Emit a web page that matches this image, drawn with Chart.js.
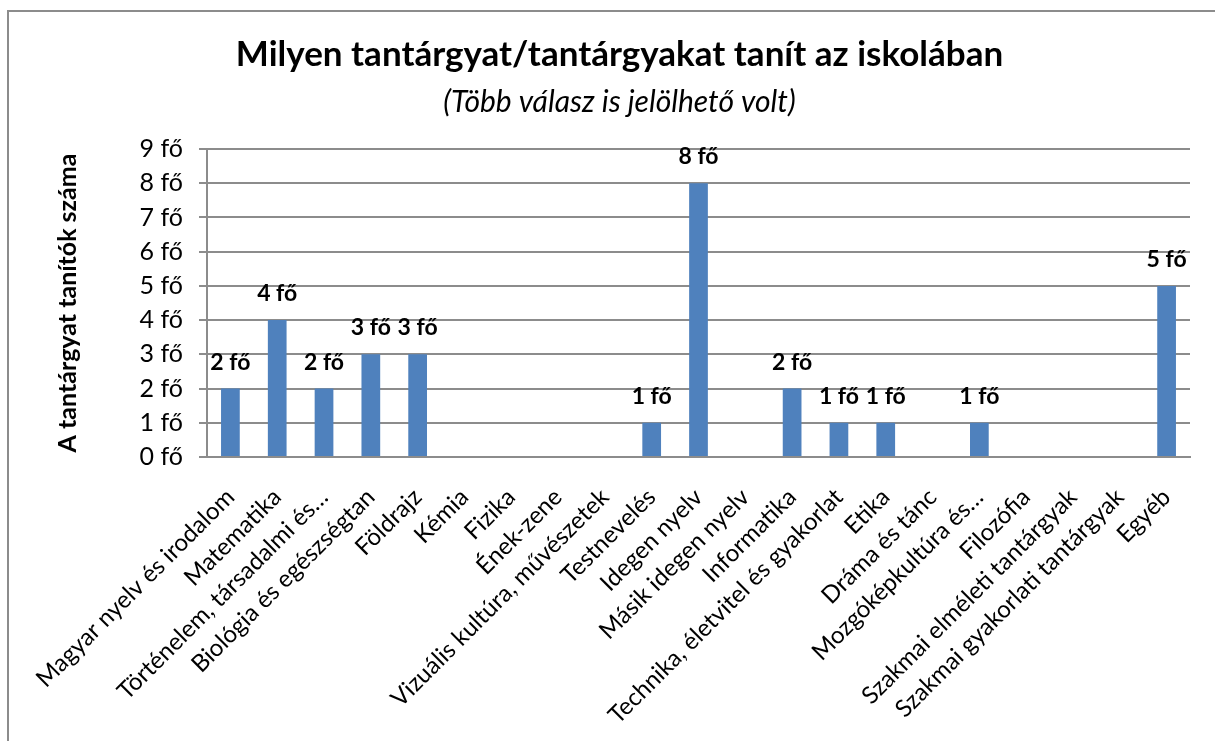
<!DOCTYPE html>
<html>
<head>
<meta charset="utf-8">
<script src="https://cdn.jsdelivr.net/npm/chart.js@4/dist/chart.umd.min.js"></script>
<style>
  html, body { margin: 0; padding: 0; background: #fff; }
  #wrap { position: relative; width: 1215px; height: 741px; }
  #frame {
    position: absolute; left: 7px; top: 10px; right: 0; bottom: 0;
    border-top: 2px solid #8c8c8c; border-left: 2px solid #8c8c8c;
    pointer-events: none;
  }
</style>
</head>
<body>
<div id="wrap">
  <canvas id="theChart" width="1215" height="741"></canvas>
  <div id="frame"></div>
</div>
<script>
const subjects = [
  "Magyar nyelv és irodalom",
  "Matematika",
  "Történelem, társadalmi és…",
  "Biológia és egészségtan",
  "Földrajz",
  "Kémia",
  "Fizika",
  "Ének-zene",
  "Vizuális kultúra, művészetek",
  "Testnevelés",
  "Idegen nyelv",
  "Másik idegen nyelv",
  "Informatika",
  "Technika, életvitel és gyakorlat",
  "Etika",
  "Dráma és tánc",
  "Mozgóképkultúra és…",
  "Filozófia",
  "Szakmai elméleti tantárgyak",
  "Szakmai gyakorlati tantárgyak",
  "Egyéb",
];
const teachers = [2, 4, 2, 3, 3, 0, 0, 0, 0, 1, 8, 0, 2, 1, 1, 0, 1, 0, 0, 0, 5];
const unit = " fő";

const FONT = "Lato, 'Open Sans', sans-serif";
const GRID = "#8c8c8c";

// value labels above the bars, zeros left out like in the original
const barLabels = {
  id: "barLabels",
  afterDatasetsDraw(chart) {
    const ctx = chart.ctx;
    const meta = chart.getDatasetMeta(0);
    ctx.save();
    ctx.font = "bold 23px " + FONT;
    ctx.fillStyle = "#000";
    ctx.textAlign = "center";
    ctx.textBaseline = "alphabetic";
    meta.data.forEach(function (bar, i) {
      const v = teachers[i];
      if (!v) return;
      ctx.fillText(v + unit, bar.x, bar.y - 19);
    });
    ctx.restore();
  },
};

const config = {
  type: "bar",
  data: {
    labels: subjects,
    datasets: [
      {
        label: "A tantárgyat tanítók száma",
        data: teachers,
        backgroundColor: "#4f81bd",
        borderWidth: 0,
        barPercentage: 0.4,
        categoryPercentage: 1.0,
      },
    ],
  },
  options: {
    responsive: false,
    animation: false,
    layout: {
      padding: { top: 20, left: 49, right: 25, bottom: 0 },
    },
    plugins: {
      legend: { display: false },
      tooltip: { enabled: false },
      title: {
        display: true,
        text: "Milyen tantárgyat/tantárgyakat tanít az iskolában",
        color: "#000",
        font: { family: FONT, size: 35, weight: "bold", lineHeight: 1.2 },
        padding: { top: 14, bottom: 0 },
      },
      subtitle: {
        display: true,
        text: "(Több válasz is jelölhető volt)",
        color: "#000",
        font: { family: FONT, size: 30, style: "italic", lineHeight: 1.2 },
        padding: { top: 8, bottom: 29 },
      },
    },
    scales: {
      x: {
        grid: { display: false },
        border: { display: true, color: GRID, width: 2 },
        ticks: {
          color: "#000",
          font: { family: FONT, size: 24 },
          maxRotation: 45,
          minRotation: 45,
          autoSkip: false,
          padding: 18,
        },
        afterFit(scale) {
          scale.height = 741 - 457;
        },
      },
      y: {
        min: 0,
        max: 9,
        grid: { color: GRID, lineWidth: 2, tickLength: 8 },
        border: { display: true, color: GRID, width: 2 },
        ticks: {
          stepSize: 1,
          color: "#000",
          padding: 16,
          font: { family: FONT, size: 25 },
          callback: function (v) {
            return v + unit;
          },
        },
        title: {
          display: true,
          text: "A tantárgyat tanítók száma",
          color: "#000",
          font: { family: FONT, size: 25, weight: "bold" },
          padding: { top: 4, bottom: 4 },
        },
        afterFit(scale) {
          scale.width = 207 - 49;
        },
      },
    },
  },
  plugins: [barLabels],
};

const theChart = new Chart(document.getElementById("theChart"), config);
</script>
</body>
</html>
